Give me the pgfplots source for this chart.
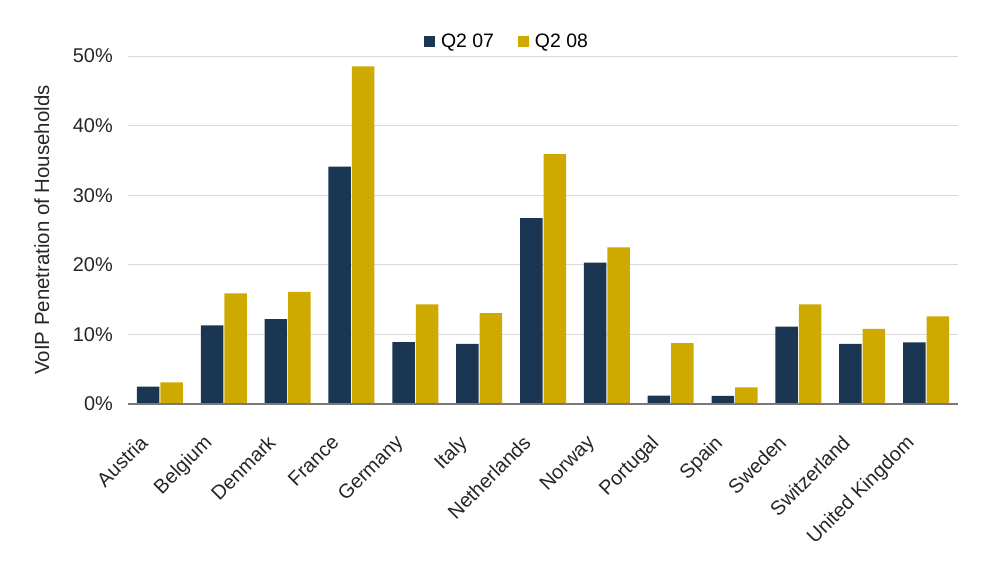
\documentclass[border=0pt]{standalone}
\usepackage{pgfplots}
\pgfplotsset{compat=1.18}
\usepackage{fontspec}
\setmainfont{Liberation Sans}
\definecolor{navy}{RGB}{26,54,82}
\definecolor{gold}{RGB}{206,170,0}
\definecolor{gridgray}{RGB}{217,217,217}
\definecolor{basegray}{RGB}{120,120,120}

\begin{document}
\begin{tikzpicture}
\path[use as bounding box] (-128bp,-162bp) rectangle (861bp,404bp);
\begin{axis}[
  scale only axis,
  width=830bp, height=348bp,
  ybar=1bp,
  bar width=22.5bp,
  xmin=-0.5, xmax=12.5,
  ymin=0, ymax=50,
  xtick={0,...,12},
  xticklabels={Austria,Belgium,Denmark,France,Germany,Italy,Netherlands,Norway,Portugal,Spain,Sweden,Switzerland,United Kingdom},
  xticklabel style={rotate=45, anchor=north east, inner sep=0pt, xshift=-36bp, yshift=-6bp},
  ytick={0,10,20,30,40,50},
  yticklabel={\pgfmathprintnumber{\tick}\%},
  yticklabel style={inner sep=0pt, xshift=-15bp},
  /pgf/number format/assume math mode=true,
  major tick length=0pt,
  ymajorgrids,
  grid style={gridgray, line width=0.8bp},
  axis x line*=bottom,
  axis y line*=left,
  y axis line style={draw=none},
  x axis line style={draw=none},
  tick label style={font=\fontsize{20}{24}\selectfont, text=black!85},
  ylabel={VoIP Penetration of Households},
  ylabel style={font=\fontsize{20.5}{24}\selectfont, text=black!85},
  every axis y label/.append style={at={(ticklabel cs:0.5)}, yshift=20bp},
  legend columns=2,
  legend style={at={(0.5,1.0)}, anchor=south, draw=none, fill=none,
    font=\fontsize{19.5}{23}\selectfont, yshift=3bp, xshift=-36bp,
    /tikz/every odd column/.append style={column sep=4bp},
    /tikz/every even column/.append style={column sep=22bp}},
  legend image code/.code={\fill[#1] (0bp,-5.5bp) rectangle (11bp,5.5bp);},
  clip=false,
]
\addplot[fill=navy, draw=none] coordinates {
  (0,2.5) (1,11.3) (2,12.2) (3,34.1) (4,8.9) (5,8.65) (6,26.7)
  (7,20.3) (8,1.2) (9,1.15) (10,11.1) (11,8.65) (12,8.85)};
\addplot[fill=gold, draw=none] coordinates {
  (0,3.1) (1,15.9) (2,16.1) (3,48.5) (4,14.3) (5,13.05) (6,35.9)
  (7,22.5) (8,8.75) (9,2.4) (10,14.3) (11,10.8) (12,12.6)};
\legend{Q2 07, Q2 08}
% baseline drawn over the bars
\draw[basegray, line width=1.2bp] (rel axis cs:0,0) -- (rel axis cs:1,0);
\end{axis}
\end{tikzpicture}
\end{document}
